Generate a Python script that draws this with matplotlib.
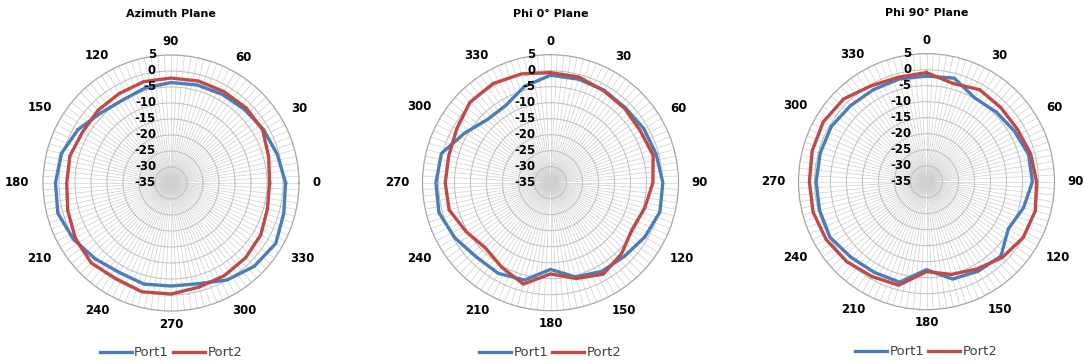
import numpy as np
import matplotlib.pyplot as plt

# gain (dB) read every 15 degrees, per plane and port
ANGLES = list(range(0, 360, 15))

AZ_PORT1 = [0.8, -0.6, -1.6, -2.5, -3.0, -3.3, -3.6, -4.2, -5.0, -4.0, -1.5, 0.5,
            1.1, 1.6, 0.2, -1.5, -2.7, -2.3, -2.8, -2.4, 0.0, 1.8, 2.8, 1.5]
AZ_PORT2 = [-4.2, -3.4, -1.9, -1.8, -2.0, -2.0, -2.2, -2.2, -2.7, -2.8, -3.1, -2.3,
            -2.4, -1.6, -0.5, 0.3, -0.5, 0.2, -0.3, -1.3, -1.6, -2.0, -2.6, -3.8]

PHI0_PORT1 = [-1.4, -1.5, -1.6, -1.9, -1.3, -0.8, 0.1, 0.4, -1.0, -2.4, -3.0, -4.5,
              -7.9, -3.5, -2.3, -2.2, -0.5, 1.1, 0.8, 0.3, -4.0, -7.1, -7.1, -3.8]
PHI0_PORT2 = [-0.6, -0.8, -1.8, -2.2, -2.6, -1.8, -3.0, -4.5, -5.6, -3.6, -2.0, -4.0,
              -6.5, -2.2, -4.5, -6.2, -4.5, -2.2, -2.1, -2.1, -1.2, 0.6, 0.8, 0.2]

PHI90_PORT1 = [-2.0, -1.5, -4.8, -4.2, -3.3, -2.0, -1.9, -3.6, -5.5, -2.1, -2.7, -3.5,
               -7.5, -2.5, -2.3, -1.6, -0.2, -0.4, -0.5, -0.6, -0.6, -1.4, -1.8, -1.8]
PHI90_PORT2 = [-0.9, -3.2, -1.8, -2.2, -2.2, -1.3, -0.6, 0.2, -0.1, -1.5, -3.5, -5.0,
               -6.9, -1.5, -0.8, 0.3, 1.2, 1.7, 1.6, 2.0, 2.3, 1.6, -0.4, -1.2]

TITLES = ["Azimuth Plane", "Phi 0° Plane", "Phi 90° Plane"]
R_LABELS = [5, 0, -5, -10, -15, -20, -25, -30, -35]
ANGLE_LABELS = list(range(0, 360, 30))
SERIES_NAMES = ["Port1", "Port2"]

BLUE = '#4A7DBA'
RED = '#BE4B48'
R_MIN, R_MAX = -35, 5

W, H = 1084, 364
RADIUS_PX = 128


def radar(fig, center, title, port1, port2, zero_loc, direction):
    cx, cy = center
    rect = [(cx - RADIUS_PX) / W, (H - cy - RADIUS_PX) / H,
            2 * RADIUS_PX / W, 2 * RADIUS_PX / H]
    ax = fig.add_axes(rect, projection='polar')
    ax.set_theta_zero_location(zero_loc)
    ax.set_theta_direction(direction)
    ax.set_ylim(R_MIN, R_MAX)

    # dense spokes, one per category
    ax.set_xticks(np.deg2rad(np.arange(0, 360, 3)))
    ax.set_xticklabels([])
    ax.set_yticks(list(range(-30, 5, 5)))
    ax.set_yticklabels([])
    ax.tick_params(length=0)
    ax.xaxis.grid(True, color='#d0d0d0', lw=0.5)
    ax.yaxis.grid(True, color='#bdbdbd', lw=0.7)
    ax.spines['polar'].set_color('#a6a6a6')
    ax.spines['polar'].set_linewidth(0.9)

    th = np.deg2rad(ANGLES + [360])
    ax.plot(th, port1 + port1[:1], color=BLUE, lw=2.4, label=SERIES_NAMES[0],
            solid_joinstyle='round')
    ax.plot(th, port2 + port2[:1], color=RED, lw=2.4, label=SERIES_NAMES[1],
            solid_joinstyle='round')

    # value axis labels along the upper spoke
    for v in R_LABELS:
        y = 0.5 + (v - R_MIN) / (R_MAX - R_MIN) * 0.5
        ax.text(0.5 - 15 / (2 * RADIUS_PX), y, str(v), transform=ax.transAxes,
                ha='right', va='center', fontsize=8.5, fontweight='bold')

    # category labels around the outside
    for a in ANGLE_LABELS:
        if zero_loc == 'E':
            scr = np.deg2rad(a)
        else:
            scr = np.deg2rad(90 - a)
        w = 4.2 * len(str(a))
        r = 141 + w * abs(np.cos(scr))
        x = 0.5 + r * np.cos(scr) / (2 * RADIUS_PX)
        y = 0.5 + r * np.sin(scr) / (2 * RADIUS_PX)
        ax.text(x, y, str(a), transform=ax.transAxes, ha='center', va='center',
                fontsize=8.5, fontweight='bold', clip_on=False)

    ax.text(0.5, 1 + 41 / (2 * RADIUS_PX), title, transform=ax.transAxes,
            ha='center', va='center', fontsize=8, fontweight='bold')

    leg = ax.legend(loc='center', bbox_to_anchor=(0.5, -42 / (2 * RADIUS_PX)),
                    ncol=2, frameon=False, fontsize=9.5, handlelength=2.4,
                    handletextpad=0.2, columnspacing=0.3, borderpad=0)
    for t in leg.get_texts():
        t.set_color('#404040')
    return ax


fig = plt.figure(figsize=(W / 100, H / 100), dpi=100)
fig.patch.set_facecolor('white')

radar(fig, (171, 183), TITLES[0], AZ_PORT1, AZ_PORT2, 'E', 1)
radar(fig, (550.5, 182.7), TITLES[1], PHI0_PORT1, PHI0_PORT2, 'N', -1)
radar(fig, (926.5, 181.7), TITLES[2], PHI90_PORT1, PHI90_PORT2, 'N', -1)

fig.savefig('out.png', dpi=100)
